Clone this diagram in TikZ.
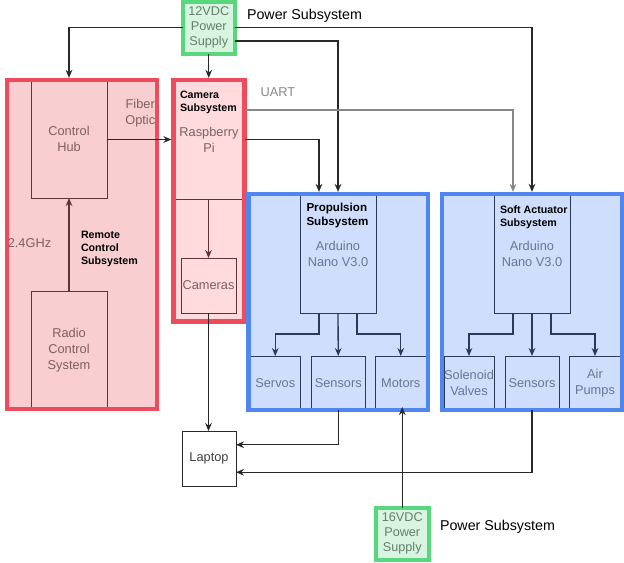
\documentclass[tikz,border=0pt]{standalone}
\usepackage{fontspec}
\setmainfont{Liberation Sans}
\usetikzlibrary{arrows.meta,calc}
\definecolor{redb}{RGB}{238,76,92}
\definecolor{remfill}{RGB}{249,206,209}
\definecolor{camfill}{RGB}{255,219,221}
\definecolor{redin}{RGB}{96,52,52}
\definecolor{redtxt}{RGB}{125,96,96}
\definecolor{blueb}{RGB}{80,134,240}
\definecolor{bluefill}{RGB}{206,222,252}
\definecolor{bluein}{RGB}{44,58,88}
\definecolor{bluetxt}{RGB}{104,118,145}
\definecolor{greenb}{RGB}{90,214,126}
\definecolor{greenfill}{RGB}{216,245,225}
\definecolor{greentxt}{RGB}{100,128,108}
\definecolor{lineclr}{RGB}{40,40,40}
\definecolor{uartclr}{RGB}{135,135,135}
\newcommand{\mybox}[7]{\node[#6, minimum width={(#4-#2)*0.75pt}, minimum height={(#5-#3)*0.75pt}] (#1) at ({(#2+#4)/2},{(#3+#5)/2}) {#7};}
\newcommand{\gtxtfont}{\fontsize{9.6}{12}\selectfont}
\tikzset{
  every node/.style={outer sep=0pt, inner sep=0pt},
  outerred/.style={draw=redb, line width=3.3pt},
  outerblue/.style={draw=blueb, line width=3.3pt},
  outergreen/.style={draw=greenb, line width=3pt, fill=greenfill, text=greentxt, font=\fontsize{9.5}{11.25}\selectfont, align=center},
  inred/.style={draw=redin, line width=0.7pt, text=redtxt, font=\gtxtfont, align=center},
  inblue/.style={draw=bluein, line width=0.7pt, text=bluetxt, font=\gtxtfont, align=center},
  plainbox/.style={draw=lineclr, line width=0.7pt, fill=white, text=black!75, font=\gtxtfont, align=center},
  titletxt/.style={font=\bfseries\fontsize{8}{9.75}\selectfont, align=left, text=black, anchor=west},
  redlbl/.style={text=redtxt, font=\gtxtfont, align=center},
  bluelbl/.style={text=bluetxt, font=\gtxtfont, align=center},
  powerlbl/.style={font=\fontsize{10.7}{13}\selectfont, text=black, anchor=west},
  conn/.style={draw=lineclr, line width=1pt, -{Stealth[length=6pt,width=5pt]}},
  redarr/.style={draw=redin, line width=1pt, -{Stealth[length=6pt,width=5pt]}},
  bluearr/.style={draw=bluein, line width=1pt, -{Stealth[length=6pt,width=5pt]}},
  tothick/.style={shorten >=1.6pt}
}
\begin{document}
\begin{tikzpicture}[x=0.75pt,y=-0.75pt]
\useasboundingbox (0,0) rectangle (624,562);

% outer subsystem boxes (fill)
\mybox{remote}{7}{80}{157}{409}{outerred, fill=remfill}{}
\mybox{cam}{173.5}{80}{244.5}{321.5}{outerred, fill=camfill}{}
\mybox{prop}{248.5}{194}{428}{410}{outerblue, fill=bluefill}{}
\mybox{soft}{442}{194}{622.5}{410}{outerblue, fill=bluefill}{}

% inner boxes: remote control
\mybox{hub}{31}{80}{107}{198}{inred}{Control\\Hub}
\mybox{radio}{31}{291}{107}{409}{inred}{Radio\\Control\\System}
% camera
\mybox{rpi}{173.5}{80}{244.5}{199}{inred}{Raspberry\\Pi}
\mybox{cams}{181}{258}{236}{313}{inred}{Cameras}
% propulsion
\mybox{pard}{300}{194}{376}{313}{inblue}{}
\mybox{servos}{250}{356}{300.5}{410}{inblue}{Servos}
\mybox{psens}{311}{356}{365.5}{410}{inblue}{Sensors}
\mybox{motors}{375.5}{356}{426}{410}{inblue}{Motors}
% soft actuator
\mybox{sard}{494}{194}{570}{313}{inblue}{}
\mybox{valves}{444}{356}{494}{410}{inblue}{Solenoid\\Valves}
\mybox{ssens}{505}{356}{559}{410}{inblue}{Sensors}
\mybox{pumps}{569}{356}{621}{410}{inblue}{Air\\Pumps}

% redraw thick borders on top
\draw[outerred] (remote.north west) rectangle (remote.south east);
\draw[outerred] (cam.north west) rectangle (cam.south east);
\draw[outerblue] (prop.north west) rectangle (prop.south east);
\draw[outerblue] (soft.north west) rectangle (soft.south east);

% other boxes
\mybox{laptop}{182}{431}{236}{486}{plainbox}{Laptop}
\mybox{psu12}{183}{1.5}{234.5}{54}{outergreen}{12VDC\\Power\\Supply}
\mybox{psu16}{375.5}{507.5}{429}{560}{outergreen}{16VDC\\Power\\Supply}

% texts
\node[powerlbl] (pwr1) at (247,16) {Power Subsystem};
\node[powerlbl] (pwr2) at (440,527) {Power Subsystem};
\node[titletxt] (remt) at (81,249) {Remote\\Control\\Subsystem};
\node[redlbl] (ghz) at (29.5,243) {2.4GHz};
\node[titletxt] (camt) at (180,102) {Camera\\Subsystem};
\node[titletxt, font=\bfseries\fontsize{8.7}{11}\selectfont] (propt) at (306.5,215.5) {Propulsion\\Subsystem};
\node[bluelbl] (pardt) at (338,253.5) {Arduino\\Nano V3.0};
\node[titletxt] (softt) at (500,217.5) {Soft Actuator\\Subsystem};
\node[bluelbl] (sardt) at (532,253.5) {Arduino\\Nano V3.0};
\node[text=uartclr, font=\gtxtfont] (uart) at (278,92) {UART};

% power connectors
\draw[conn,tothick] (psu12.west) -| (hub.north);
\draw[conn,tothick] (psu12.south) -- (psu12.south |- rpi.north);
\draw[conn,tothick] (psu12.east) -| (sard.north);
\draw[conn,tothick] (psu12.east |- 0,41) -| (pard.north);
\draw[conn,shorten >=-2.2pt] (psu16.north) -- (psu16.north |- motors.south);

% data connectors
\draw[conn,draw=uartclr,tothick] (cam.east |- 0,110) -| ($(sard.north west)!0.25!(sard.north east)$);
\draw[conn,tothick] (rpi.east) -| ($(pard.north west)!0.25!(pard.north east)$);
\draw[conn,tothick] (hub.east |- rpi.west) -- node[redlbl, midway, yshift=19.5pt] (fiber) {Fiber\\Optic} (rpi.west);
\draw[redarr] (radio.north) -- (hub.south);
\draw[redarr] (rpi.south -| cams.north) -- (cams.north);
\draw[conn] (cams.south) -- (cams.south |- laptop.north);
\draw[conn] (psens.south) |- ($(laptop.north east)!0.25!(laptop.south east)$);
\draw[conn] (ssens.south) |- ($(laptop.north east)!0.75!(laptop.south east)$);

% inner connectors
\draw[bluearr] ($(pard.south west)!0.25!(pard.south east)$) -- ++(0,21) -| (servos.north);
\draw[bluearr] (pard.south) -- (psens.north);
\draw[bluearr] ($(pard.south west)!0.75!(pard.south east)$) -- ++(0,21) -| (motors.north);
\draw[bluearr] ($(sard.south west)!0.25!(sard.south east)$) -- ++(0,21) -| (valves.north);
\draw[bluearr] (sard.south) -- (ssens.north);
\draw[bluearr] ($(sard.south west)!0.75!(sard.south east)$) -- ++(0,21) -| (pumps.north);
\end{tikzpicture}
\end{document}
